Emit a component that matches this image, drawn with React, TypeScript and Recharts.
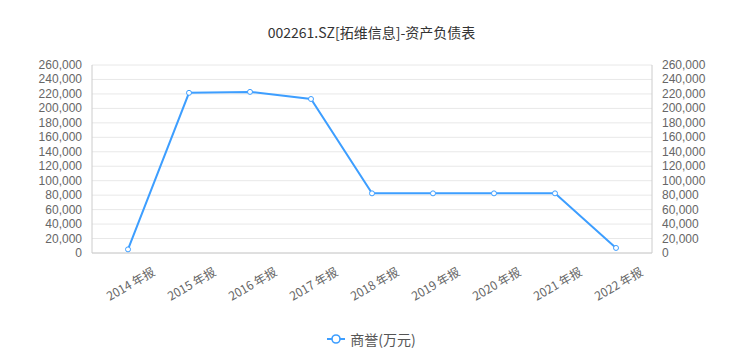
import React from "react";
import { LineChart, Line, XAxis, YAxis, CartesianGrid, Legend } from "recharts";

const categories = ["2014 年报", "2015 年报", "2016 年报", "2017 年报", "2018 年报", "2019 年报", "2020 年报", "2021 年报", "2022 年报"];
const goodwill = [5000, 221500, 222800, 213000, 82500, 82500, 82500, 82500, 7000];
const yTicks = [0, 20000, 40000, 60000, 80000, 100000, 120000, 140000, 160000, 180000, 200000, 220000, 240000, 260000];
const seriesName = "商誉(万元)";
const title = "002261.SZ[拓维信息]-资产负债表";

const data = categories.map((c, i) => ({ name: c, value: goodwill[i] }));
const FONT = '"Noto Sans CJK SC", "Microsoft YaHei", sans-serif';
const NUMFONT = '"Liberation Sans", Arial, sans-serif';
const COLOR = "#3d9eff";

const fmt = (v: number) => v.toLocaleString("en-US");

const XTick = (props: any) => {
  const { x, y, payload } = props;
  return (
    <text
      transform={`translate(${x + 2},${y + 22}) rotate(-30)`}
      textAnchor="middle"
      dominantBaseline="central"
      fill="#666"
      fontSize={12}
      fontFamily={FONT}
    >
      {payload.value}
    </text>
  );
};

const YTick = (props: any) => {
  const { x, y, payload, side } = props;
  return (
    <text
      x={x}
      y={y}
      textAnchor={side === "left" ? "end" : "start"}
      dominantBaseline="central"
      fill="#666"
      fontSize={12}
      fontFamily={NUMFONT}
    >
      {fmt(payload.value)}
    </text>
  );
};

const LegendContent = () => (
  <div style={{ display: "flex", justifyContent: "center", alignItems: "center", height: 20, fontFamily: FONT, fontSize: 14, color: "#555" }}>
    <svg width={18} height={12} style={{ marginRight: 5 }}>
      <line x1={0} y1={6} x2={18} y2={6} stroke={COLOR} strokeWidth={2} />
      <circle cx={9} cy={6} r={4} fill="#fff" stroke={COLOR} strokeWidth={1.6} />
    </svg>
    <span>{seriesName}</span>
  </div>
);

export default function App() {
  return (
    <div style={{ position: "absolute", left: 0, top: 0, width: 743, height: 361, background: "#fff" }}>
      <div style={{ position: "absolute", top: 22, left: 0, width: 743, textAlign: "center", fontFamily: FONT, fontSize: 14, color: "#333" }}>
        {title}
      </div>
      <LineChart width={743} height={361} data={data} margin={{ top: 65, right: 0, left: 0, bottom: 12 }}>
        <CartesianGrid vertical={false} stroke="#e8e8e8" yAxisId="left" />
        <XAxis
          dataKey="name"
          height={76}
          tick={<XTick />}
          tickLine={false}
          axisLine={{ stroke: "#ccc" }}
          padding={{ left: 36, right: 36 }}
          interval={0}
        />
        <YAxis
          yAxisId="left"
          width={92}
          domain={[0, 260000]}
          ticks={yTicks}
          tick={<YTick side="left" />}
          tickLine={false}
          tickMargin={4}
          axisLine={{ stroke: "#ccc" }}
          interval={0}
        />
        <YAxis
          yAxisId="right"
          orientation="right"
          width={91}
          domain={[0, 260000]}
          ticks={yTicks}
          tick={<YTick side="right" />}
          tickLine={false}
          tickMargin={4}
          axisLine={{ stroke: "#ccc" }}
          interval={0}
        />
        <Legend verticalAlign="bottom" height={20} content={<LegendContent />} />
        <Line
          yAxisId="right"
          type="linear"
          dataKey="value"
          stroke="none"
          dot={false}
          activeDot={false}
          legendType="none"
          isAnimationActive={false}
        />
        <Line
          yAxisId="left"
          type="linear"
          dataKey="value"
          name={seriesName}
          stroke={COLOR}
          strokeWidth={2}
          dot={{ r: 2.5, fill: "#fff", stroke: COLOR, strokeWidth: 1 }}
          isAnimationActive={false}
        />
      </LineChart>
    </div>
  );
}
